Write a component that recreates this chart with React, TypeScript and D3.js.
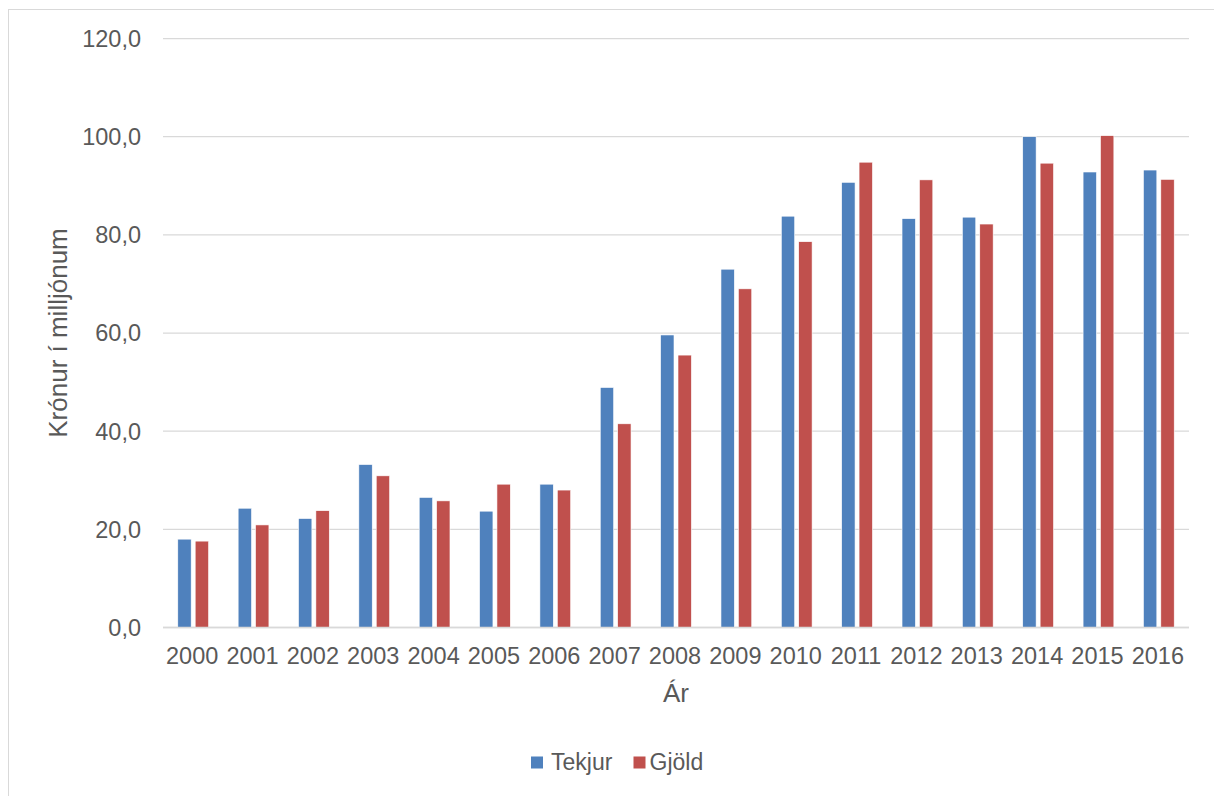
import React from "react";
import * as d3 from "d3";

const years = ["2000","2001","2002","2003","2004","2005","2006","2007","2008","2009","2010","2011","2012","2013","2014","2015","2016"];
const tekjur = [18.0, 24.3, 22.2, 33.2, 26.5, 23.7, 29.2, 48.9, 59.6, 73.0, 83.8, 90.7, 83.3, 83.6, 100.0, 92.8, 93.2];
const gjold = [17.6, 20.9, 23.8, 30.9, 25.8, 29.2, 28.0, 41.5, 55.5, 69.0, 78.6, 94.8, 91.2, 82.2, 94.6, 100.2, 91.3];
const seriesNames = ["Tekjur", "Gjöld"];
const seriesColors = ["#4f81bd", "#c0504d"];
const yTicks = [0, 20, 40, 60, 80, 100, 120];

const W = 1214;
const H = 796;
const left = 163;
const right = 1189;
const top = 38.5;
const bottom = 627.5;
const font = "'Liberation Sans', Arial, sans-serif";
const textColor = "#595959";

export default function App() {
  const x0 = d3.scaleBand<string>().domain(years).range([left, right]).paddingInner(0.49).paddingOuter(0.245);
  const x1 = d3.scaleBand<string>().domain(seriesNames).range([0, x0.bandwidth()]).paddingInner(0.23).paddingOuter(0);
  const y = d3.scaleLinear().domain([0, 120]).range([bottom, top]);
  const fmt = (v: number) => d3.format(".1f")(v).replace(".", ",");
  const data = [tekjur, gjold];

  return (
    <svg width={W} height={H} style={{ position: "absolute", left: 0, top: 0, background: "#fff" }} fontFamily={font}>
      <rect x={8.5} y={9.5} width={1220} height={800} fill="#fff" stroke="#d9d9d9" strokeWidth={1} />
      {yTicks.map((t) => (
        <g key={t}>
          <line x1={left} x2={right} y1={y(t)} y2={y(t)} stroke="#d9d9d9" strokeWidth={t === 0 ? 1.5 : 1.25} />
          <text x={141} y={y(t) + 8.4} textAnchor="end" fontSize={23.5} fill={textColor}>{fmt(t)}</text>
        </g>
      ))}
      {years.map((yr, i) => (
        <g key={yr}>
          {data.map((arr, s) => (
            <rect
              key={s}
              x={(x0(yr) as number) + (x1(seriesNames[s]) as number)}
              y={y(arr[i])}
              width={x1.bandwidth()}
              height={y(0) - y(arr[i])}
              fill={seriesColors[s]}
              stroke="#fff"
              strokeWidth={0.6}
            />
          ))}
          <text x={(x0(yr) as number) + x0.bandwidth() / 2 - 1} y={664} textAnchor="middle" fontSize={23.5} fill={textColor}>{yr}</text>
        </g>
      ))}
      <line x1={left} x2={right} y1={y(0)} y2={y(0)} stroke="#d9d9d9" strokeWidth={1.5} />
      <text transform={`translate(67,333) rotate(-90)`} textAnchor="middle" fontSize={26} fill={textColor}>Krónur í milljónum</text>
      <text x={(left + right) / 2} y={701.5} textAnchor="middle" fontSize={26} fill={textColor}>Ár</text>
      <g>
        <rect x={531} y={756.5} width={12} height={12} fill={seriesColors[0]} />
        <text x={551} y={770} fontSize={23} fill={textColor}>{seriesNames[0]}</text>
        <rect x={633.5} y={756.5} width={12} height={12} fill={seriesColors[1]} />
        <text x={649.5} y={770} fontSize={23} fill={textColor}>{seriesNames[1]}</text>
      </g>
    </svg>
  );
}
